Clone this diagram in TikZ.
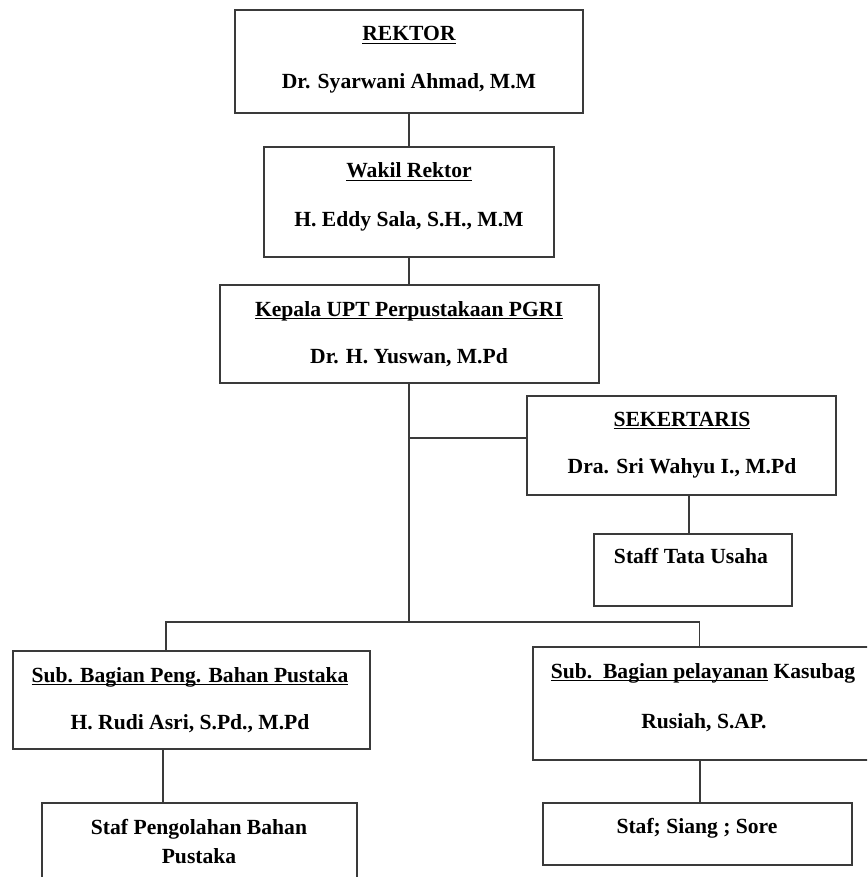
\documentclass[tikz,border=0pt]{standalone}
\usepackage{fontspec}
\setmainfont{Liberation Serif}
\definecolor{linec}{HTML}{3A3A3A}
\newcommand\uln[1]{\setbox0\hbox{#1}\rlap{\rule[-3.2pt]{\wd0}{1.3pt}}\box0\relax}
\begin{document}
\begin{tikzpicture}[x=1pt,y=-1pt,
  box/.style={draw=linec, line width=1.5pt, rectangle, inner sep=0pt},
  txt/.style={font=\bfseries\fontsize{21.6}{29}\selectfont, anchor=base, inner sep=0pt, text=black},
  conn/.style={draw=linec, line width=1.5pt}]
\useasboundingbox (0,0) rectangle (867,877);
\clip (0,0) rectangle (867,877);
\fill[white] (0,0) rectangle (867,877);
% boxes
\node[box, minimum width=348pt, minimum height=103pt] (rek) at (409,61.5) {};
\node[box, minimum width=290pt, minimum height=110pt] (wak) at (409,202) {};
\node[box, minimum width=379pt, minimum height=98pt] (kep) at (409.5,334) {};
\node[box, minimum width=309pt, minimum height=99pt] (sek) at (681.5,445.5) {};
\node[box, minimum width=198pt, minimum height=72pt] (stu) at (693,570) {};
\node[box, minimum width=357pt, minimum height=98pt] (sbp) at (191.5,700) {};
\node[box, minimum width=340pt, minimum height=113pt] (spl) at (703,703.5) {};
\node[box, minimum width=315pt, minimum height=97pt] (spb) at (199.5,851.5) {};
\node[box, minimum width=309pt, minimum height=62pt] (sss) at (697.5,834) {};
% texts
\node[txt] (t1) at (409,41) {\uln{REKTOR}};
\node[txt] (n1) at (409,89) {Dr. Syarwani Ahmad, M.M};
\node[txt] (t2) at (409,178) {\uln{Wakil Rektor}};
\node[txt] (n2) at (409,226) {H. Eddy Sala, S.H., M.M};
\node[txt] (t3) at (409,316) {\uln{Kepala UPT Perpustakaan PGRI}};
\node[txt] (n3) at (409,363) {Dr. H. Yuswan, M.Pd};
\node[txt] (t4) at (682,426) {\uln{SEKERTARIS}};
\node[txt] (n4) at (682,473) {Dra. Sri Wahyu I., M.Pd};
\node[txt] (t5) at (691,563) {Staff Tata Usaha};
\node[txt] (t6) at (190,682) {\uln{Sub. Bagian Peng. Bahan Pustaka}};
\node[txt] (n6) at (190,729) {H. Rudi Asri, S.Pd., M.Pd};
\node[txt] (t7) at (703,678) {\uln{Sub.\hspace{0.5em}Bagian pelayanan} Kasubag};
\node[txt] (n7) at (704,728) {Rusiah, S.AP.};
\node[txt] (t8) at (199,834) {Staf Pengolahan Bahan};
\node[txt] (t8b) at (199,863) {Pustaka};
\node[txt] (t9) at (697,833) {Staf; Siang ; Sore};
% connectors
\coordinate (hub) at (409,622);
\coordinate (sj) at (409,438);
\coordinate (sekc) at (689,495);
\coordinate (hl) at (166,622);
\coordinate (hr) at (699.5,622);
\coordinate (bl) at (163,749);
\coordinate (br) at (700,760);
\draw[conn] (rek.south) -- (wak.north);
\draw[conn] (wak.south) -- (wak.south |- kep.north);
\draw[conn] (kep.south -| hub) -- (hub);
\draw[conn] (sj) -- (sj -| sek.west);
\draw[conn] (sekc) -- (sekc |- stu.north);
\draw[conn] (hl |- sbp.north) -- (hl) -- (hr) -- (hr |- spl.north);
\draw[conn] (bl) -- (bl |- spb.north);
\draw[conn] (br) -- (br |- sss.north);
\end{tikzpicture}
\end{document}
